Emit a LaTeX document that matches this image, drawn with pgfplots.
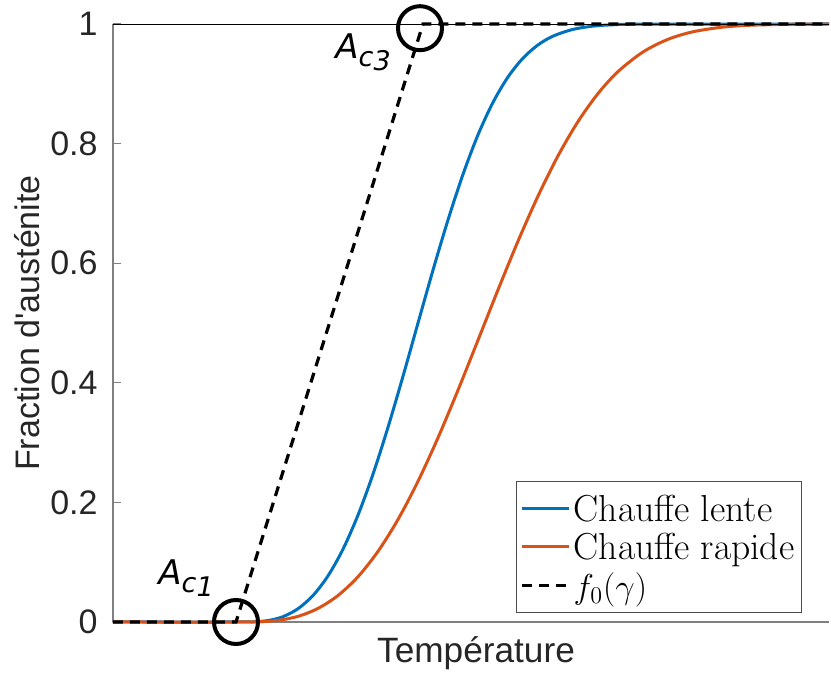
\documentclass[border=0pt]{standalone}
\usepackage{pgfplots}
\pgfplotsset{compat=1.18}
\usepackage{fontspec}
\newfontfamily\arial{Liberation Sans}
\newfontfamily\dejavu{DejaVu Sans}
\definecolor{mblue}{rgb}{0,0.447,0.741}
\definecolor{morange}{rgb}{0.85,0.325,0.098}
\definecolor{axgray}{gray}{0.5}
\newcommand{\Ac}[1]{{\dejavu\itshape\fontsize{17}{20}\selectfont A\raisebox{-4pt}{\fontsize{13.5}{15}\selectfont c\raisebox{-2pt}{#1}}}}
\begin{document}
\begin{tikzpicture}
\begin{axis}[
  scale only axis, width=358pt, height=299pt,
  xmin=0, xmax=716, ymin=0, ymax=1,
  clip=false,
  axis lines=left, axis line style={-, axgray, line width=0.8pt},
  xtick=\empty,
  ytick={0,0.2,0.4,0.6,0.8,1},
  yticklabels={0,0.2,0.4,0.6,0.8,1},
  tick align=inside, major tick length=4pt,
  tick style={axgray, line width=0.6pt},
  /pgf/number format/assume math mode=true,
  yticklabel style={font=\arial\fontsize{17}{20}\selectfont, text=black!85, inner xsep=7.5pt, inner ysep=0pt},
  ylabel={Fraction d'austénite},
  ylabel style={font=\arial\fontsize{17}{20}\selectfont, text=black!85, at={(axis description cs:-0.1201,0.5)}, anchor=center},
  xlabel={Température},
  xlabel style={font=\arial\fontsize{17.6}{20}\selectfont, text=black!85, at={(axis description cs:0.507,0)}, anchor=base, yshift=-20.5pt},
  legend style={at={(rel axis cs:0.9623,0.0151)}, anchor=south east, draw=black!70, line width=0.5pt,
    font=\fontsize{18.8}{22}\selectfont, inner xsep=2pt, inner ysep=1pt, row sep=-5.75pt,
    nodes={inner sep=1.5pt, text height=17.5pt, text depth=4.5pt}},
  legend cell align=left,
  legend image code/.code={\draw[#1] (0pt,0pt) -- (23.5pt,0pt);},
]
\addplot[mblue, line width=1.5pt, smooth] coordinates {
(0,0) (127,0) (140,0.0002) (155,0.0024) (170,0.0089) (185,0.0222) (200,0.0443)
(215,0.0771) (230,0.1218) (245,0.1787) (260,0.2472) (275,0.3256) (290,0.4109)
(305,0.4999) (320,0.5884) (335,0.6723) (350,0.7486) (365,0.8147) (380,0.8689)
(395,0.9114) (410,0.9429) (425,0.9650) (440,0.9797) (460,0.9910) (480,0.9964)
(500,0.9987) (530,0.9997) (716,1)};
\addlegendentry{Chauffe lente}
\addplot[morange, line width=1.5pt, smooth] coordinates {
(0,0) (127,0) (145,0.0003) (165,0.0027) (185,0.0094) (205,0.0227) (225,0.0443)
(245,0.0757) (265,0.1181) (285,0.1714) (305,0.2352) (325,0.3081) (345,0.3877)
(365,0.4713) (385,0.5554) (405,0.6368) (425,0.7122) (445,0.7795) (465,0.8368)
(485,0.8837) (505,0.9204) (530,0.9532) (555,0.9744) (580,0.9870) (610,0.9948)
(640,0.9981) (680,0.9996) (716,1)};
\addlegendentry{Chauffe rapide}
\addplot[black, line width=1.6pt, dash pattern=on 5pt off 3.5pt] coordinates {
(0,0) (123,0) (310,1) (716,1)};
\addlegendentry{$f_0(\gamma)$}
\addplot[black, line width=2pt, only marks, mark=o, mark size=11pt, forget plot] coordinates {
(123,0) (307,0.993)};
\draw[black, line width=0.4pt] (rel axis cs:0,1) -- (rel axis cs:1,1);
\node[anchor=base west, inner sep=0pt] at (axis cs:45,0.0619) {\Ac{1}};
\node[anchor=base west, inner sep=0pt] at (axis cs:222,0.943) {\Ac{3}};
\coordinate (bl) at (rel axis cs:0,0);
\coordinate (tr) at (rel axis cs:1,1);
\end{axis}
\pgfresetboundingbox
\path[use as bounding box] ([xshift=-56.5pt,yshift=-28.5pt]bl) rectangle ([xshift=1pt,yshift=12pt]tr);
\end{tikzpicture}
\end{document}
